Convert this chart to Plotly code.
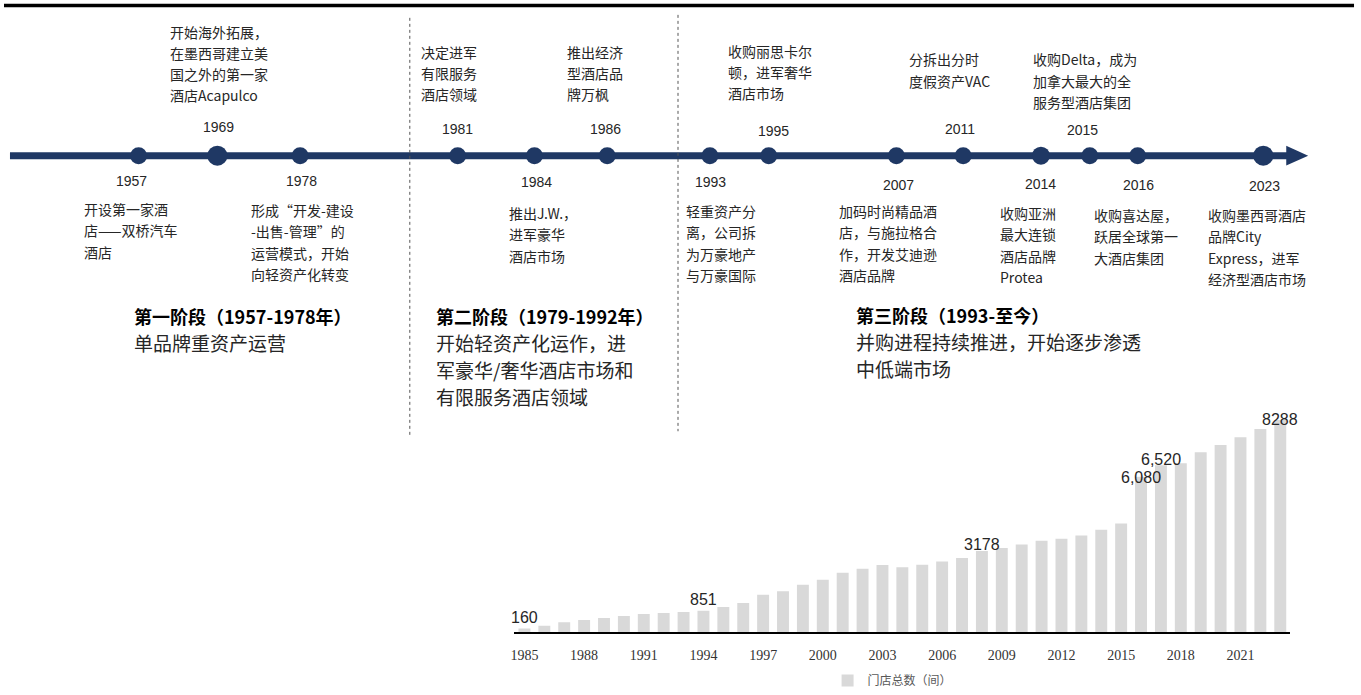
import plotly.graph_objects as go

# ---------------- data ----------------
years = list(range(1985, 2024))
stores = [160, 260, 400, 490, 570, 645, 720, 760, 800, 851,
          990, 1150, 1470, 1610, 1860, 2060, 2330, 2490, 2630, 2550,
          2640, 2770, 2910, 3178, 3300, 3430, 3580, 3660, 3780, 4010,
          4250, 6080, 6520, 6600, 7030, 7310, 7620, 7940, 8288]
labeled_years = [1985, 1994, 2008, 2016, 2017, 2023]
labeled_text = ["160", "851", "3178", "6,080", "6,520", "8288"]
tick_years = list(range(1985, 2022, 3))
series_name = "门店总数（间）"

event_years = [1957, 1969, 1978, 1981, 1984, 1986, 1993, 1995, 2007, 2011, 2014, 2015, 2016, 2023]
event_texts = [
    ["开设第一家酒", "店——双桥汽车", "酒店"],
    ["开始海外拓展，", "在墨西哥建立美", "国之外的第一家", "酒店Acapulco"],
    ["形成“开发-建设", "-出售-管理”的", "运营模式，开始", "向轻资产化转变"],
    ["决定进军", "有限服务", "酒店领域"],
    ["推出J.W.，", "进军豪华", "酒店市场"],
    ["推出经济", "型酒店品", "牌万枫"],
    ["轻重资产分", "离，公司拆", "为万豪地产", "与万豪国际"],
    ["收购丽思卡尔", "顿，进军奢华", "酒店市场"],
    ["加码时尚精品酒", "店，与施拉格合", "作，开发艾迪逊", "酒店品牌"],
    ["分拆出分时", "度假资产VAC"],
    ["收购亚洲", "最大连锁", "酒店品牌", "Protea"],
    ["收购Delta，成为", "加拿大最大的全", "服务型酒店集团"],
    ["收购喜达屋，", "跃居全球第一", "大酒店集团"],
    ["收购墨西哥酒店", "品牌City", "Express，进军", "经济型酒店市场"],
]
phase_titles = ["第一阶段（1957-1978年）", "第二阶段（1979-1992年）", "第三阶段（1993-至今）"]
phase_bodies = [
    ["单品牌重资产运营"],
    ["开始轻资产化运作，进", "军豪华/奢华酒店市场和", "有限服务酒店领域"],
    ["并购进程持续推进，开始逐步渗透", "中低端市场"],
]

# ---------------- layout (pixel positions on canvas) ----------------
W, H = 1361, 695
NAVY = "#1F3864"
CJK = "Noto Sans CJK SC"
LAT = "Liberation Sans"
TXT = "#262626"
LEFT_PAD = 5  # compensate annotation inner padding

event_dot_x = [135, 214, 297, 455, 532, 605, 708, 767, 895, 962, 1040, 1089, 1137, 1263]
event_dot_size = [17, 20, 17, 17, 17, 17, 17, 17, 17, 17, 18, 17, 17, 20]
year_lbl_pos = [(128, 183), (215, 128), (298, 183), (455, 130), (534, 184), (603, 130),
                (709, 184), (772, 132), (897, 187), (959, 130), (1040, 186), (1082, 131),
                (1138, 187), (1264, 188)]
text_pos = [(83, 211), (169, 32), (251, 212), (421, 52), (509, 215), (568, 52),
            (687, 213), (729, 51), (840, 213), (911, 60), (1002, 215), (1035, 60),
            (1096, 217), (1211, 217)]
LINE_Y = 157
TEXT_LS = 21.4
phase_pos = [(133, 319), (436, 319), (857, 318)]
PHASE_LS = 27
label_offsets = [11, 11, 7, -1, 6, 1]  # px shift of value labels above bar top

fig = go.Figure()

# bar chart
fig.add_trace(go.Bar(
    x=years, y=stores, name=series_name,
    marker=dict(color="#D9D9D9", line=dict(width=0)),
    width=0.6, xaxis="x", yaxis="y", hoverinfo="x+y",
))

# timeline dots
fig.add_trace(go.Scatter(
    x=event_dot_x, y=[LINE_Y] * len(event_dot_x), mode="markers",
    marker=dict(color=NAVY, size=event_dot_size, opacity=1, line=dict(width=0)),
    text=[str(y) for y in event_years], hoverinfo="text",
    xaxis="x2", yaxis="y2", showlegend=False,
))

shapes = [
    dict(type="line", xref="x2", yref="y2", x0=0, x1=1354, y0=5.5, y1=5.5,
         line=dict(color="black", width=3.5), layer="below"),
    dict(type="line", xref="x2", yref="y2", x0=6, x1=1290, y0=LINE_Y, y1=LINE_Y,
         line=dict(color=NAVY, width=7), layer="below"),
    dict(type="path", xref="x2", yref="y2",
         path=f"M1286,{LINE_Y-10} L1308,{LINE_Y} L1286,{LINE_Y+10} Z",
         fillcolor=NAVY, line=dict(width=0), layer="below"),
    dict(type="line", xref="x2", yref="y2", x0=407, x1=407, y0=18, y1=440,
         line=dict(color="#555555", width=1, dash="3px,3px")),
    dict(type="line", xref="x2", yref="y2", x0=676, x1=676, y0=15, y1=435,
         line=dict(color="#555555", width=1, dash="3px,3px")),
]

ann = []
# bar value labels (anchored to the data values)
for yr, txt, off in zip(labeled_years, labeled_text, label_offsets):
    ann.append(dict(x=yr, y=stores[years.index(yr)], xref="x", yref="y", text=txt,
                    showarrow=False, xanchor="center", yanchor="middle", yshift=off,
                    font=dict(family=LAT, size=16, color=TXT)))
for yr, (cx, cy) in zip(event_years, year_lbl_pos):
    ann.append(dict(x=cx, y=cy, xref="x2", yref="y2", text=str(yr), showarrow=False,
                    xanchor="center", yanchor="middle",
                    font=dict(family=LAT, size=14, color=TXT)))
for lines, (lx, ly) in zip(event_texts, text_pos):
    for i, ln in enumerate(lines):
        ann.append(dict(x=lx - LEFT_PAD, y=ly + i * TEXT_LS, xref="x2", yref="y2", text=ln,
                        showarrow=False, xanchor="left", yanchor="middle",
                        font=dict(family=CJK, size=14, color=TXT)))
for title, body, (lx, ly) in zip(phase_titles, phase_bodies, phase_pos):
    ann.append(dict(x=lx - LEFT_PAD, y=ly, xref="x2", yref="y2", text=f"<b>{title}</b>",
                    showarrow=False, xanchor="left", yanchor="middle",
                    font=dict(family=CJK, size=18, color="black")))
    for i, ln in enumerate(body):
        ann.append(dict(x=lx - LEFT_PAD, y=ly + 26.5 + i * PHASE_LS, xref="x2", yref="y2", text=ln,
                        showarrow=False, xanchor="left", yanchor="middle",
                        font=dict(family=CJK, size=19, color=TXT)))

fig.update_layout(
    width=W, height=H, margin=dict(l=0, r=0, t=0, b=0),
    paper_bgcolor="white", plot_bgcolor="rgba(0,0,0,0)",
    showlegend=True,
    legend=dict(orientation="h", x=826 / W, y=1 - 686.5 / H, xanchor="left", yanchor="middle",
                font=dict(family=CJK, size=12, color="#595959"), bgcolor="rgba(0,0,0,0)"),
    xaxis=dict(domain=[512 / W, 1290 / W], range=[1984.5, 2023.5],
               tickvals=tick_years, ticktext=[str(t) for t in tick_years],
               tickfont=dict(family="Liberation Serif", size=14, color="#333333"),
               showline=True, linecolor="black", linewidth=1.5, showgrid=False,
               zeroline=False, ticks="", ticklabelstandoff=9, anchor="y"),
    yaxis=dict(domain=[1 - 638 / H, 1 - 405.3 / H], range=[0, 9000], visible=False,
               showgrid=False, zeroline=False, anchor="x"),
    xaxis2=dict(domain=[0, 1], range=[0, W], visible=False, anchor="y2"),
    yaxis2=dict(domain=[0, 1], range=[H, 0], visible=False, anchor="x2"),
    shapes=shapes, annotations=ann,
)

fig.write_html("out.html")
